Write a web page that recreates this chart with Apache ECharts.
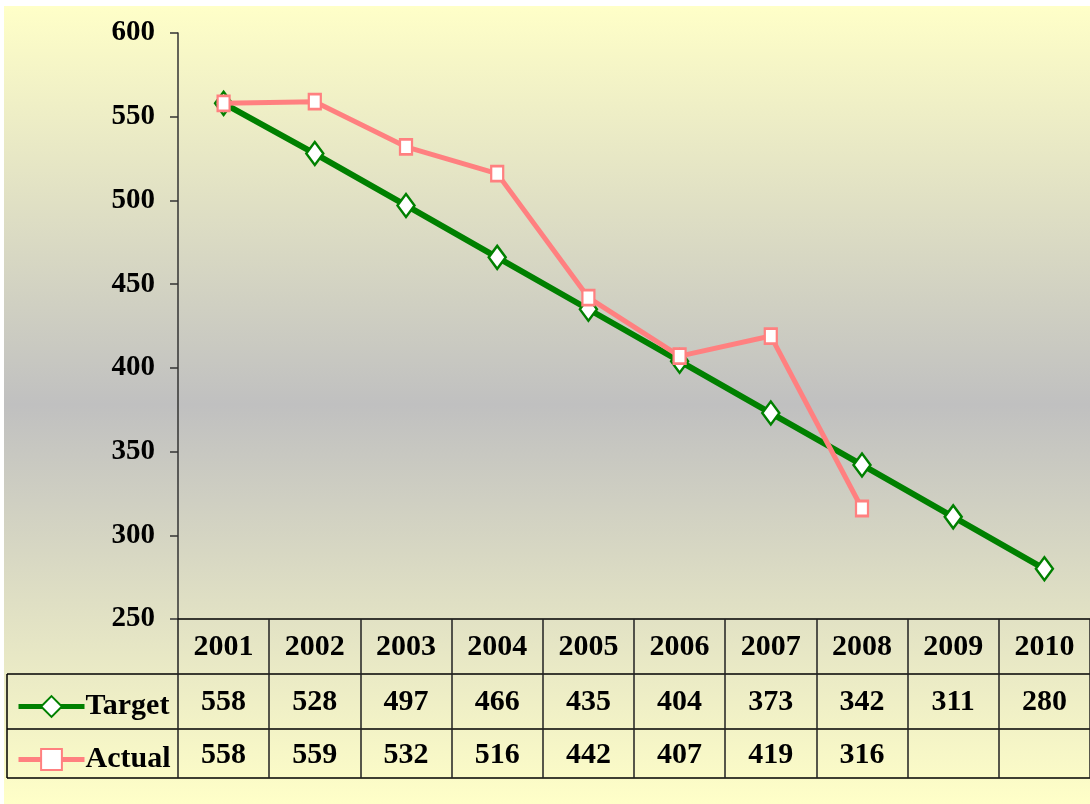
<!DOCTYPE html>
<html>
<head>
<meta charset="utf-8">
<script src="https://cdn.jsdelivr.net/npm/echarts@6/dist/echarts.min.js"></script>
<style>
html,body{margin:0;padding:0;background:#fff;}
#chart{width:1090px;height:804px;background:linear-gradient(#FFFFC8,#C0C0C0 50%,#FFFFC8) 4px 6px / 1086px 798px no-repeat,#fff;}
</style>
</head>
<body>
<div id="chart"></div>
<script>
var years = ['2001','2002','2003','2004','2005','2006','2007','2008','2009','2010'];
var targetValues = [558,528,497,466,435,404,373,342,311,280];
var actualValues = [558,559,532,516,442,407,419,316,null,null];
var yTicks = {min:250, max:600, interval:50};

var FONT = '"Liberation Serif","Times New Roman",serif';
var chart = echarts.init(document.getElementById('chart'), null, {renderer:'canvas'});
var cellLabel = {fontFamily:FONT, fontWeight:'bold', fontSize:30, color:'#000'};
function cellText(arr){ return arr.map(function(v){ return v==null ? '' : String(v); }); }

chart.setOption({
  backgroundColor:'transparent',
  animation:false,
  grid:{left:178, top:33, width:918, height:586, containLabel:false},
  legend:{
    orient:'vertical', left:11, top:686, itemWidth:66, itemHeight:26, itemGap:22,
    lineStyle:{width:5},
    textStyle:{fontFamily:FONT, fontWeight:'bold', fontSize:30, color:'#000', lineHeight:31, padding:[0,0,0,-4]},
    data:['Target','Actual']
  },
  xAxis:[
    {type:'category', data:years, position:'bottom', boundaryGap:true,
     axisLine:{show:true, lineStyle:{color:'#000', width:1.5}},
     axisTick:{show:true, interval:0, length:55, lineStyle:{color:'#222', width:1.5}},
     axisLabel:Object.assign({margin:13, interval:0}, cellLabel)},
    {type:'category', data:cellText(targetValues), position:'bottom', offset:55, boundaryGap:true,
     axisLine:{show:false},
     axisTick:{show:true, interval:0, length:55, lineStyle:{color:'#222', width:1.5}},
     axisLabel:Object.assign({margin:13, interval:0}, cellLabel)},
    {type:'category', data:cellText(actualValues), position:'bottom', offset:110, boundaryGap:true,
     axisLine:{show:false},
     axisTick:{show:true, interval:0, length:49, lineStyle:{color:'#222', width:1.5}},
     axisLabel:Object.assign({margin:11, interval:0}, cellLabel)}
  ],
  yAxis:{
    type:'value', min:yTicks.min, max:yTicks.max, interval:yTicks.interval,
    axisLine:{show:true, lineStyle:{color:'#333', width:1.5}},
    axisTick:{show:true, length:8, lineStyle:{color:'#333', width:1.5}},
    splitLine:{show:false},
    axisLabel:{margin:23, fontFamily:FONT, fontWeight:'bold', fontSize:29, color:'#000'}
  },
  graphic:[
    {type:'line', shape:{x1:7, y1:674, x2:1090, y2:674}, style:{stroke:'#000', lineWidth:1.5}},
    {type:'line', shape:{x1:7, y1:729, x2:1090, y2:729}, style:{stroke:'#000', lineWidth:1.5}},
    {type:'line', shape:{x1:7, y1:778, x2:1090, y2:778}, style:{stroke:'#000', lineWidth:1.5}},
    {type:'line', shape:{x1:7, y1:674, x2:7, y2:778}, style:{stroke:'#000', lineWidth:1.5}}
  ],
  series:[
    {name:'Target', type:'line', data:targetValues, xAxisIndex:0,
     symbol:'diamond', symbolSize:[17,23], showAllSymbol:true,
     lineStyle:{color:'#008000', width:6},
     itemStyle:{color:'#fff', borderColor:'#008000', borderWidth:2.5},
     color:'#008000', z:2},
    {name:'Actual', type:'line', data:actualValues, xAxisIndex:0,
     symbol:'rect', symbolSize:[12,15], showAllSymbol:true, connectNulls:false,
     lineStyle:{color:'#FF8080', width:5},
     itemStyle:{color:'#fff', borderColor:'#FF8080', borderWidth:2.5},
     color:'#FF8080', z:3}
  ]
});
</script>
</body>
</html>
